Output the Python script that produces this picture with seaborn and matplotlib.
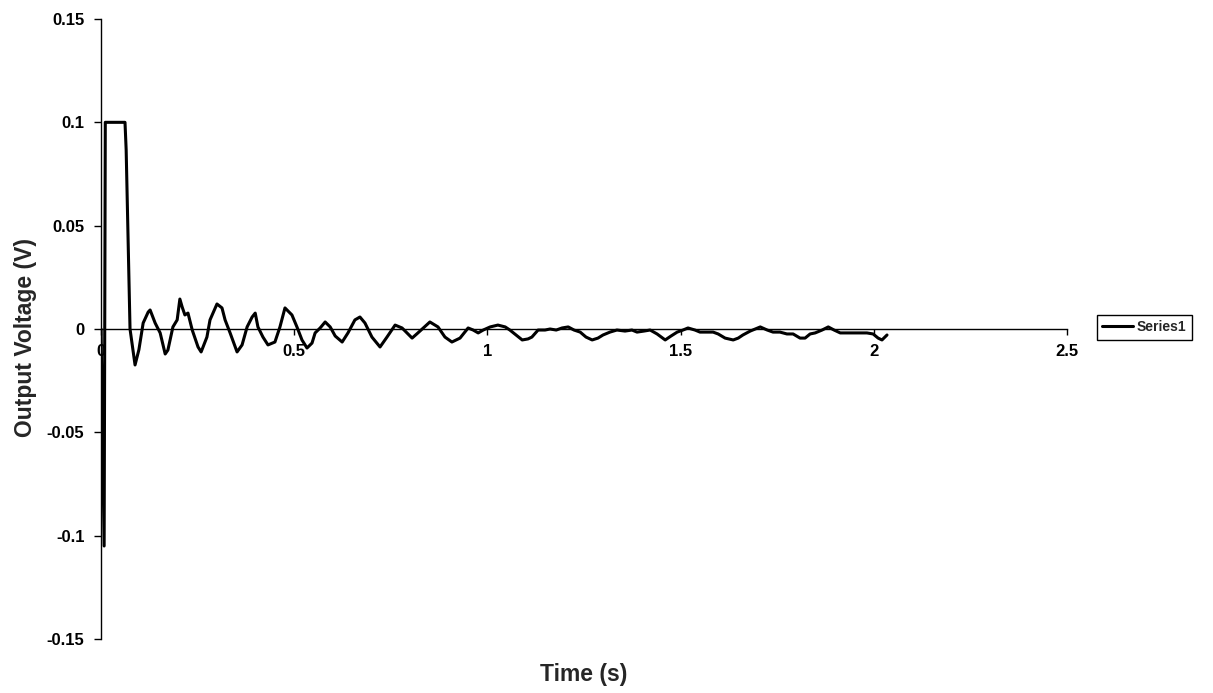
import matplotlib
matplotlib.use("Agg")
import matplotlib.pyplot as plt
import seaborn as sns
import pandas as pd

# Step response of the output stage: time (s) and output voltage (V)
time_s = [
    0.000, 0.008, 0.011, 0.062, 0.065, 0.075, 0.088, 0.098, 0.109, 0.122,
    0.127, 0.140, 0.153, 0.166, 0.173, 0.186, 0.197, 0.204, 0.210, 0.217,
    0.225, 0.236, 0.251, 0.259, 0.274, 0.282, 0.300, 0.313, 0.321, 0.334,
    0.352, 0.365, 0.378, 0.391, 0.399, 0.406, 0.419, 0.432, 0.450, 0.463,
    0.476, 0.494, 0.507, 0.520, 0.533, 0.546, 0.554, 0.567, 0.580, 0.593,
    0.606, 0.624, 0.639, 0.657, 0.670, 0.683, 0.701, 0.722, 0.740, 0.761,
    0.779, 0.805, 0.820, 0.851, 0.872, 0.890, 0.908, 0.929, 0.950, 0.963,
    0.976, 0.989, 1.007, 1.027, 1.046, 1.058, 1.074, 1.090, 1.105, 1.115,
    1.131, 1.149, 1.162, 1.178, 1.193, 1.209, 1.224, 1.240, 1.255, 1.271,
    1.286, 1.299, 1.317, 1.335, 1.356, 1.374, 1.387, 1.405, 1.421, 1.439,
    1.460, 1.475, 1.491, 1.506, 1.519, 1.537, 1.550, 1.568, 1.584, 1.597,
    1.615, 1.636, 1.649, 1.661, 1.680, 1.693, 1.706, 1.724, 1.739, 1.757,
    1.775, 1.791, 1.809, 1.822, 1.835, 1.848, 1.866, 1.882, 1.897, 1.913,
    1.931, 1.957, 1.982, 1.998, 2.011, 2.021, 2.034,
]
voltage_v = [
    0.0, -0.105, 0.100, 0.100, 0.0867, 0.0, -0.0174, -0.0100, 0.0029, 0.0082,
    0.0092, 0.0029, -0.0019, -0.0121, -0.0102, 0.0010, 0.0044, 0.0145, 0.0106, 0.0068,
    0.0077, -0.0005, -0.0087, -0.0111, -0.0039, 0.0044, 0.0121, 0.0102, 0.0044, -0.0019,
    -0.0111, -0.0077, 0.0010, 0.0058, 0.0077, 0.0010, -0.0039, -0.0077, -0.0063, 0.0010,
    0.0102, 0.0068, 0.0010, -0.0053, -0.0092, -0.0068, -0.0019, 0.0005, 0.0034, 0.0010,
    -0.0034, -0.0063, -0.0019, 0.0044, 0.0058, 0.0029, -0.0039, -0.0087, -0.0039, 0.0019,
    0.0005, -0.0044, -0.0019, 0.0034, 0.0010, -0.0039, -0.0063, -0.0044, 0.0005, -0.0005,
    -0.0019, -0.0005, 0.0010, 0.0019, 0.0010, -0.0005, -0.0029, -0.0053, -0.0048, -0.0039,
    -0.0005, -0.0005, 0.0, -0.0005, 0.0005, 0.0010, -0.0005, -0.0015, -0.0039, -0.0053,
    -0.0044, -0.0029, -0.0015, -0.0005, -0.0010, -0.0005, -0.0015, -0.0010, -0.0005, -0.0024,
    -0.0053, -0.0034, -0.0015, -0.0005, 0.0005, -0.0005, -0.0015, -0.0015, -0.0015, -0.0024,
    -0.0044, -0.0053, -0.0044, -0.0029, -0.0010, 0.0, 0.0010, -0.0005, -0.0015, -0.0015,
    -0.0024, -0.0024, -0.0044, -0.0044, -0.0024, -0.0019, -0.0005, 0.0010, -0.0005, -0.0019,
    -0.0019, -0.0019, -0.0019, -0.0024, -0.0044, -0.0053, -0.0029,
]
series_name = "Series1"

x_ticks = [0, 0.5, 1, 1.5, 2, 2.5]
x_tick_labels = ["0", "0.5", "1", "1.5", "2", "2.5"]
y_ticks = [0.15, 0.1, 0.05, 0, -0.05, -0.1, -0.15]
y_tick_labels = ["0.15", "0.1", "0.05", "0", "-0.05", "-0.1", "-0.15"]

sns.set_theme(style="white")
plt.rcParams["font.family"] = ["Liberation Sans", "DejaVu Sans"]
plt.rcParams["font.weight"] = "bold"

df = pd.DataFrame({"Time (s)": time_s, "Output Voltage (V)": voltage_v,
                   "series": series_name})

fig = plt.figure(figsize=(12.13, 6.93), dpi=100)
ax = fig.add_axes([0.0833, 0.0779, 0.7964, 0.8947])

sns.lineplot(data=df, x="Time (s)", y="Output Voltage (V)", hue="series",
             palette=["black"], sort=False, estimator=None, linewidth=2.2,
             ax=ax)

ax.set_xlim(0, 2.5)
ax.set_ylim(-0.15, 0.15)

# Excel-style axes: vertical axis on the left, horizontal axis crossing at zero
for side in ("top", "right"):
    ax.spines[side].set_visible(False)
ax.spines["bottom"].set_position(("data", 0))
for side in ("left", "bottom"):
    ax.spines[side].set_color("black")
    ax.spines[side].set_linewidth(1.0)

ax.set_xticks(x_ticks)
ax.set_xticklabels(x_tick_labels, fontsize=12, fontweight="bold")
ax.set_yticks(y_ticks)
ax.set_yticklabels(y_tick_labels, fontsize=12, fontweight="bold")
ax.tick_params(axis="x", direction="out", length=4, width=1, pad=7,
               colors="black", bottom=True)
ax.tick_params(axis="y", direction="out", length=5, width=1, pad=7,
               colors="black", left=True)

ax.set_xlabel("Time (s)", fontsize=16.5, fontweight="bold", va="center")
ax.xaxis.set_label_coords(0.5, -0.058)
ax.set_ylabel("Output Voltage (V)", fontsize=16.5, fontweight="bold",
              va="center")
ax.yaxis.set_label_coords(-0.0787, 0.487)

ax.grid(False)
ax.legend(loc="center left", bbox_to_anchor=(0.904, 0.528),
          bbox_transform=fig.transFigure, frameon=True, fancybox=False,
          edgecolor="black", framealpha=1, borderpad=0.4,
          handlelength=2.2, handletextpad=0.3, borderaxespad=0,
          prop={"weight": "bold", "size": 10}).get_frame().set_linewidth(1.0)

fig.savefig("out.png", dpi=100)
